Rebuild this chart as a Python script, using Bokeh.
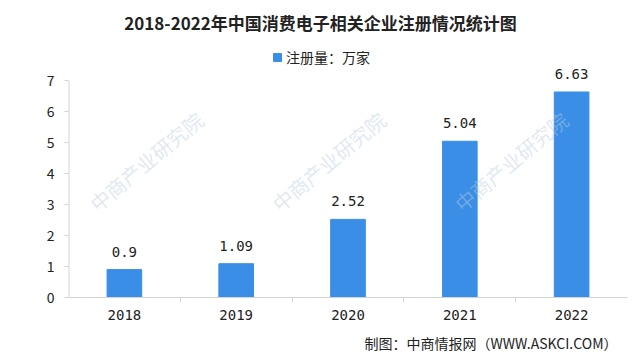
from bokeh.plotting import figure
from bokeh.models import (ColumnDataSource, FixedTicker, Range1d, LabelSet, Title, Label,
                          Legend, LegendItem)
from bokeh.core.properties import value
from bokeh.embed import file_html
from bokeh.resources import INLINE

years = ["2018", "2019", "2020", "2021", "2022"]
values = [0.9, 1.09, 2.52, 5.04, 6.63]
value_labels = ["0.9", "1.09", "2.52", "5.04", "6.63"]
y_ticks = [0, 1, 2, 3, 4, 5, 6, 7]
y_max = 7

FONT = "Noto Sans CJK SC"
MONO = "DejaVu Sans Mono"
BAR = "#3a8ee6"
AXIS = "#cfd4da"
TXT = "#222222"
WM = "#b9cde0"

xs = list(range(len(years)))
src = ColumnDataSource(dict(x=xs, top=values, lab=value_labels))

W, H = 640, 363
FL, FB = 68, 297          # frame left / bottom in page pixels
UNIT = 31.0               # pixels per y unit
TOP = 2                   # frame top in page pixels
Y_END = (FB - TOP) / UNIT

p = figure(width=W, height=H, output_backend="svg", toolbar_location=None,
           x_range=Range1d(-0.5, len(years) - 0.5), y_range=Range1d(0, Y_END),
           min_border_left=FL, min_border_right=13, min_border_top=TOP,
           min_border_bottom=H - FB)
p.outline_line_color = None
p.grid.grid_line_color = None
p.background_fill_color = "white"
p.border_fill_color = "white"

bars = p.vbar(x="x", top="top", width=0.31, source=src, color=BAR)
p.add_layout(LabelSet(x="x", y="top", text="lab", source=src, text_align="center",
                      text_baseline="middle", y_offset=18, text_font_size="14px",
                      text_color=TXT, text_font=value(MONO)))

# y axis line drawn only from 0 to 7
p.segment(x0=[-0.5], y0=[0], x1=[-0.5], y1=[y_max], line_color=AXIS, line_width=2)

p.xaxis.ticker = FixedTicker(ticks=xs, minor_ticks=[i + 0.5 for i in xs[:-1]])
p.xaxis.major_label_overrides = {i: y for i, y in zip(xs, years)}
p.xaxis.major_tick_line_color = None
p.xaxis.minor_tick_line_color = AXIS
p.xaxis.minor_tick_out = 5
p.xaxis.minor_tick_in = 0
p.xaxis.axis_line_color = AXIS
p.xaxis.major_label_text_font = MONO
p.xaxis.major_label_text_font_size = "14px"
p.xaxis.major_label_text_color = TXT
p.xaxis.major_label_standoff = 6

p.yaxis.ticker = FixedTicker(ticks=y_ticks)
p.yaxis.minor_tick_line_color = None
p.yaxis.major_tick_line_color = AXIS
p.yaxis.major_tick_out = 4
p.yaxis.major_tick_in = 0
p.yaxis.axis_line_color = None
p.yaxis.major_label_text_font = FONT
p.yaxis.major_label_text_font_size = "14px"
p.yaxis.major_label_text_color = TXT
p.yaxis.major_label_standoff = 10

# faint diagonal watermarks (only those fully inside the plotting area)
for gx in range(0, 3):
    lx = 92 + 182.5 * gx
    ly = 206
    p.add_layout(Label(x=lx - FL, y=FB - ly, x_units="screen", y_units="screen",
                       text="中商产业研究院", angle=40, angle_units="deg",
                       text_align="left", text_baseline="middle", text_font=FONT,
                       text_font_size="20px", text_color=WM, text_alpha=0.45))

# title (inside the frame, above the plotted area)
p.add_layout(Label(x=W / 2 - FL, y=FB - 22, x_units="screen", y_units="screen",
                   text="2018-2022年中国消费电子相关企业注册情况统计图",
                   text_align="center", text_baseline="middle", text_font=FONT,
                   text_font_style="bold", text_font_size="17px", text_color=TXT))

legend = Legend(items=[LegendItem(label="注册量：万家", renderers=[bars])],
                orientation="horizontal", location=(272 - FL, FB - 67),
                border_line_color=None, background_fill_alpha=0,
                glyph_width=10, glyph_height=10, label_height=20, label_standoff=4,
                label_text_font=FONT, label_text_font_size="14px",
                label_text_color=TXT, padding=0, margin=0, spacing=0)
p.add_layout(legend, "center")

p.add_layout(Title(text="制图：中商情报网（WWW.ASKCI.COM）", align="right",
                   text_font=FONT, text_font_style="normal", text_font_size="14px",
                   text_color=TXT, standoff=17, offset=10), "below")

open("out.html", "w").write(file_html(p, INLINE))
